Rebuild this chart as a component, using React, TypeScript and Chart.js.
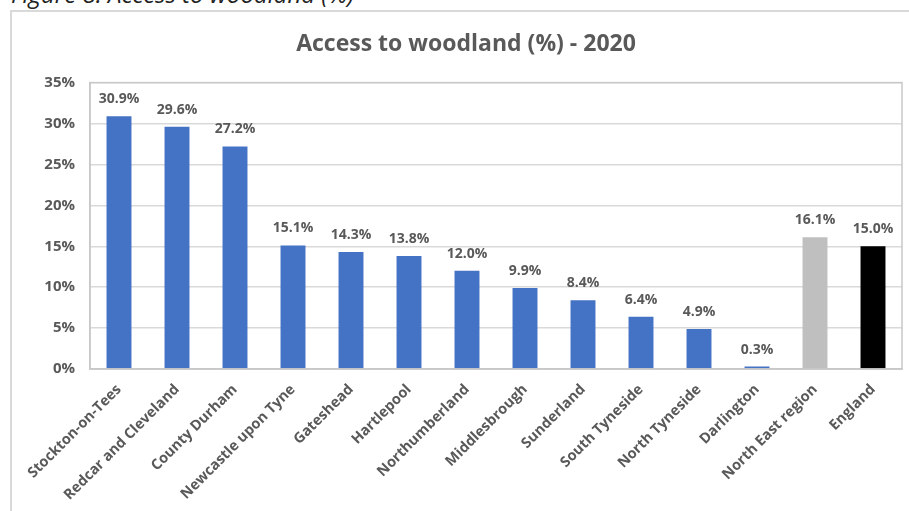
import React, { useEffect, useRef } from "react";
import { Chart, registerables } from "chart.js";

Chart.register(...registerables);

const categories = [
  "Stockton-on-Tees",
  "Redcar and Cleveland",
  "County Durham",
  "Newcastle upon Tyne",
  "Gateshead",
  "Hartlepool",
  "Northumberland",
  "Middlesbrough",
  "Sunderland",
  "South Tyneside",
  "North Tyneside",
  "Darlington",
  "North East region",
  "England",
];
const values = [30.9, 29.6, 27.2, 15.1, 14.3, 13.8, 12.0, 9.9, 8.4, 6.4, 4.9, 0.3, 16.1, 15.0];
const barColors = [
  "#4472C4", "#4472C4", "#4472C4", "#4472C4", "#4472C4", "#4472C4", "#4472C4",
  "#4472C4", "#4472C4", "#4472C4", "#4472C4", "#4472C4", "#BFBFBF", "#000000",
];
const yMax = 35;
const yStep = 5;
const chartTitle = "Access to woodland (%) - 2020";
const caption = "Figure 8: Access to woodland (%)";

const FONT = "'Open Sans', 'Noto Sans', sans-serif";
const TEXT = "#595959";

const plotBorder = {
  id: "plotBorder",
  afterDraw(chart: any) {
    const { ctx, chartArea } = chart;
    ctx.save();
    ctx.strokeStyle = "#C8C8C8";
    ctx.lineWidth = 1.5;
    ctx.strokeRect(chartArea.left, chartArea.top, chartArea.right - chartArea.left, chartArea.bottom - chartArea.top);
    ctx.restore();
  },
};

const valueLabels = {
  id: "valueLabels",
  afterDatasetsDraw(chart: any) {
    const { ctx } = chart;
    const meta = chart.getDatasetMeta(0);
    const data = chart.data.datasets[0].data as number[];
    ctx.save();
    ctx.font = `bold 14px ${FONT}`;
    ctx.fillStyle = TEXT;
    ctx.textAlign = "center";
    ctx.textBaseline = "alphabetic";
    meta.data.forEach((bar: any, i: number) => {
      ctx.fillText(data[i].toFixed(1) + "%", bar.x, bar.y - 13);
    });
    ctx.restore();
  },
};

export default function App() {
  const ref = useRef<HTMLCanvasElement | null>(null);
  useEffect(() => {
    if (!ref.current) return;
    const chart = new Chart(ref.current, {
      type: "bar",
      data: {
        labels: categories,
        datasets: [
          {
            data: values,
            backgroundColor: barColors,
            borderWidth: 0,
            barPercentage: 0.43,
            categoryPercentage: 1,
          },
        ],
      },
      options: {
        animation: false,
        responsive: false,
        devicePixelRatio: 1,
        layout: { padding: { left: 18, right: 7, top: 0, bottom: 0 } },
        plugins: {
          legend: { display: false },
          tooltip: { enabled: false },
          title: {
            display: true,
            text: chartTitle,
            color: TEXT,
            font: { family: FONT, size: 23, weight: "bold", lineHeight: 1.2 },
            padding: { top: 19, bottom: 24 },
          },
        },
        scales: {
          x: {
            grid: { display: false },
            border: { display: true, color: "#C8C8C8", width: 1.5 },
            ticks: {
              color: TEXT,
              font: { family: FONT, size: 14.5, weight: "bold" },
              maxRotation: 45,
              minRotation: 45,
              autoSkip: false,
              padding: 4,
            },
            afterFit(scale: any) {
              scale.height = 142;
            },
          },
          y: {
            min: 0,
            max: yMax,
            grid: { color: "#D9D9D9", lineWidth: 1.5, drawTicks: false },
            border: { display: true, color: "#C8C8C8", width: 1.5 },
            ticks: {
              stepSize: yStep,
              color: TEXT,
              font: { family: FONT, size: 15, weight: "bold" },
              padding: 15,
              callback: (v: any) => v + "%",
            },
            afterFit(scale: any) {
              scale.width = 60;
            },
          },
        },
      },
      plugins: [plotBorder, valueLabels],
    });
    return () => chart.destroy();
  }, []);

  return (
    <div
      style={{
        position: "fixed",
        left: 0,
        top: 0,
        width: 909,
        height: 511,
        background: "#fff",
        overflow: "hidden",
      }}
    >
      <div
        style={{
          position: "absolute",
          left: 11,
          top: -20,
          fontFamily: FONT,
          fontStyle: "italic",
          fontSize: 24,
          color: "#222",
          whiteSpace: "nowrap",
          lineHeight: "28px",
        }}
      >
        {caption}
      </div>
      <div
        style={{
          position: "absolute",
          left: 10,
          top: 10,
          width: 899,
          height: 501,
          borderLeft: "2px solid #D9D9D9",
          borderTop: "2px solid #D9D9D9",
          boxSizing: "border-box",
        }}
      />
      <div style={{ position: "absolute", left: 12, top: 12, width: 897, height: 499 }}>
        <canvas ref={ref} width={897} height={499} style={{ display: "block" }} />
      </div>
    </div>
  );
}
